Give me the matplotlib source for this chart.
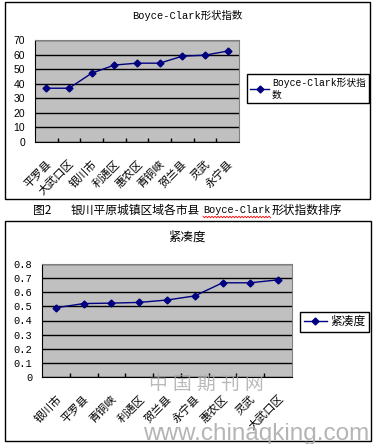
import matplotlib as mpl
mpl.use('Agg')
import matplotlib.pyplot as plt
from matplotlib.patches import Rectangle
from matplotlib.lines import Line2D
import numpy as np

# data
bc_cities = ['平罗县', '大武口区', '银川市', '利通区', '惠农区', '青铜峡', '贺兰县', '灵武', '永宁县']
bc_values = [36.9, 36.9, 47.2, 52.8, 54.1, 54.1, 58.9, 59.6, 62.4]
bc_yticks = [0, 10, 20, 30, 40, 50, 60, 70]

cmp_cities = ['银川市', '平罗县', '青铜峡', '利通区', '贺兰县', '永宁县', '惠农区', '灵武', '大武口区']
cmp_values = [0.49, 0.52, 0.523, 0.528, 0.545, 0.574, 0.667, 0.667, 0.688]
cmp_yticks = [0, 0.1, 0.2, 0.3, 0.4, 0.5, 0.6, 0.7, 0.8]

W, H = 374.0, 444.0
CJK = ['Noto Sans CJK SC', 'DejaVu Sans']
MONO = ['Liberation Mono', 'Noto Sans CJK SC']
SANS = ['Liberation Sans', 'Noto Sans CJK SC']
NAVY = '#000080'

plt.rcParams['font.family'] = CJK

def box(x0, y0, x1, y1):  # pixel box -> figure fraction rect
    return [x0 / W, 1 - y1 / H, (x1 - x0) / W, (y1 - y0) / H]

def style_axes(ax, cats, vals, yticks, ylabels, yfont, label, legend_at, legsize):
    n = len(cats)
    x = np.arange(n)
    ax.set_facecolor('#c0c0c0')
    ax.plot(x, vals, color=NAVY, lw=1, marker='D', ms=3.5, label=label, zorder=3)
    ax.set_xlim(-0.5, n - 0.5)
    ax.set_ylim(yticks[0], yticks[-1])
    ax.set_yticks(yticks)
    ax.set_yticklabels(ylabels, family=yfont, fontsize=7.5)
    ax.tick_params(axis='y', length=0, pad=7)
    ax.set_xticks(x)
    ax.set_xticklabels(cats, rotation=45, ha='right', va='top', rotation_mode='anchor',
                       fontsize=8, family=CJK)
    ax.tick_params(axis='x', which='major', length=0, pad=12)
    ax.set_xticks(np.arange(0.5, n - 1, 1), minor=True)
    ax.tick_params(axis='x', which='minor', direction='in', length=3, width=1, color='black')
    ax.yaxis.grid(True, color='black', lw=1)
    ax.set_axisbelow(True)
    for s in ['top', 'right']:
        ax.spines[s].set_color('#808080')
    for s in ['left', 'bottom']:
        ax.spines[s].set_color('black')
    leg = ax.legend(loc='upper left', bbox_to_anchor=legend_at, bbox_transform=fig.transFigure,
                    frameon=True, fancybox=False, edgecolor='black', framealpha=1,
                    prop={'family': MONO, 'size': legsize}, handlelength=1.9, handletextpad=0.3,
                    borderpad=0.35, borderaxespad=0)
    leg.get_frame().set_linewidth(1)
    return ax

fig = plt.figure(figsize=(W / 100, H / 100), dpi=100)

# chart frames
fig.add_artist(Rectangle((5 / W, 1 - 199 / H), 365 / W, 197 / H, transform=fig.transFigure,
                         fill=False, ec='black', lw=1))
fig.add_artist(Rectangle((5 / W, 1 - 441 / H), 366 / W, 220 / H, transform=fig.transFigure,
                         fill=False, ec='black', lw=1))

ax1 = fig.add_axes(box(35, 40, 239, 142))
style_axes(ax1, bc_cities, bc_values, bc_yticks, [str(v) for v in bc_yticks], SANS,
           'Boyce-Clark形状指\n数', (247 / W, 1 - 74 / H), 7)
fig.text(187 / W, 1 - 15 / H, 'Boyce-Clark形状指数', ha='center', va='center',
         family=MONO, fontsize=7.5)

ax2 = fig.add_axes(box(42, 264, 292, 377))
style_axes(ax2, cmp_cities, cmp_values, cmp_yticks, ['%.1f' % v if v else '0' for v in cmp_yticks],
           MONO, '紧凑度', (300 / W, 1 - 312 / H), 8.5)
fig.text(187 / W, 1 - 237 / H, '紧凑度', ha='center', va='center', fontsize=9)

# caption between the charts, in pieces so the underline sits under the Latin part
cy = 1 - 210 / H
fig.text(33 / W, cy, '图2', ha='left', va='center', fontsize=8.5)
fig.text(200 / W, cy, '银川平原城镇区域各市县', ha='right', va='center', fontsize=8.5)
fig.text(203 / W, cy, 'Boyce-Clark', ha='left', va='center', family=MONO, fontsize=7.4)
fig.text(272 / W, cy, '形状指数排序', ha='left', va='center', fontsize=8.5)
wx = np.arange(203, 272, 1.5)
wy = 217 + np.where(np.arange(len(wx)) % 2 == 0, -0.8, 0.8)
fig.add_artist(Line2D(wx / W, 1 - wy / H, transform=fig.transFigure, color='red', lw=0.6))

# watermark
for i, ch in enumerate('中国期刊网'):
    fig.text((158 + i * 24) / W, 1 - 384 / H, ch, ha='center', va='center', fontsize=13.5,
             color='#a8a8a8', alpha=0.8)
fig.text(143 / W, 1 - 440 / H, 'www.chinaqking.com', ha='left', va='baseline',
         family=SANS, fontsize=17.5, color='#a8a8a8', alpha=0.85)

plt.savefig('out.png', dpi=100)
